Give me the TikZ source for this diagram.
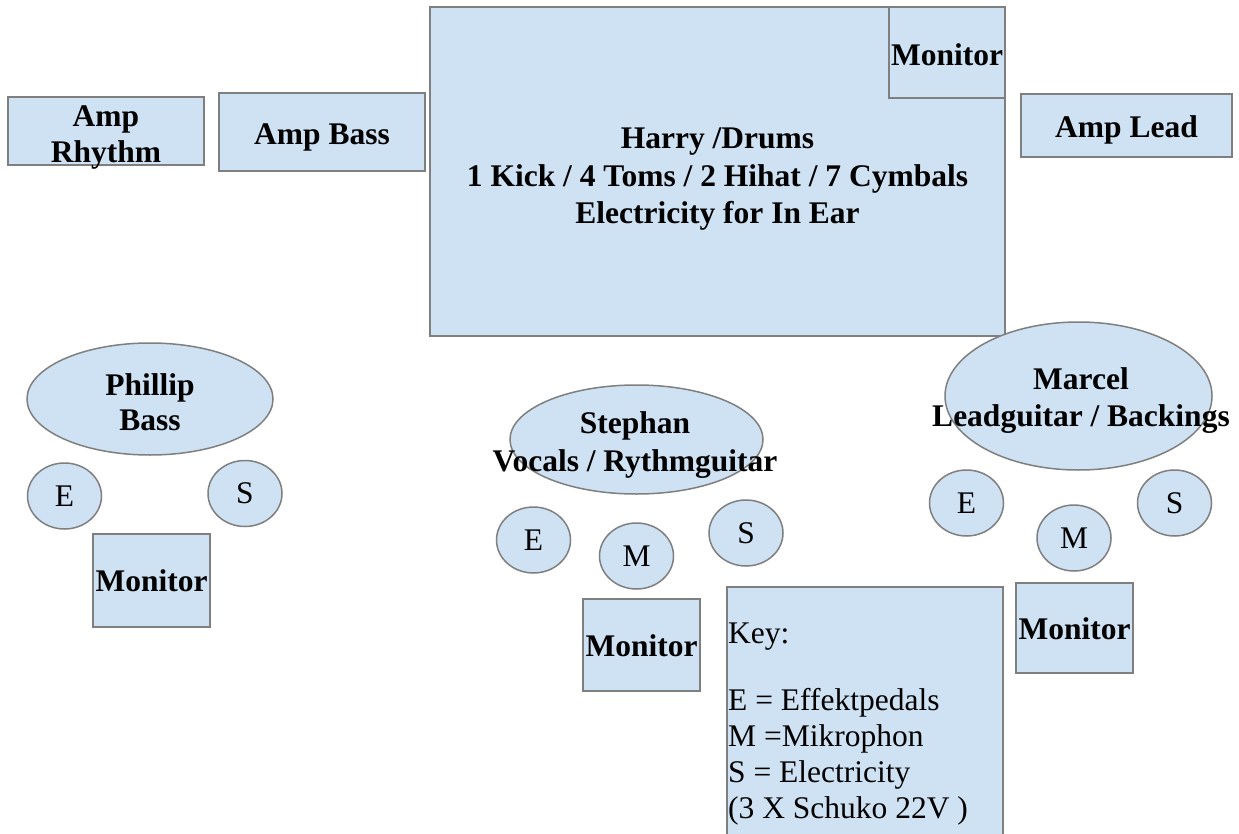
\documentclass[tikz,border=0pt]{standalone}
\usepackage{fontspec}
\setmainfont{Liberation Serif}
\usetikzlibrary{shapes.geometric}
\definecolor{fillc}{HTML}{CFE2F3}
\definecolor{linec}{HTML}{7F7F7F}
\begin{document}
\begin{tikzpicture}[x=1pt,y=-1pt,
  box/.style={draw=linec, fill=fillc, line width=1.5pt, inner sep=0pt, outer sep=0pt,
    font=\bfseries\fontsize{31.5}{37}\selectfont, align=center, text height=21pt, text depth=0pt},
  oval/.style={ellipse, draw=linec, fill=fillc, line width=1.5pt, inner sep=0pt, outer sep=0pt},
  dot/.style={oval, minimum width=74pt, minimum height=66pt, font=\fontsize{31.5}{36}\selectfont},
  lbl/.style={inner sep=0pt, anchor=base, font=\bfseries\fontsize{31.5}{37.5}\selectfont, align=center}]
\useasboundingbox (0,0) rectangle (1239,834);
\fill[white] (0,0) rectangle (1239,834);
% amps
\node[box, minimum width=196pt, minimum height=68pt] (amprhythm) at (106,131) {};
\node[lbl, font=\bfseries\fontsize{31.5}{35.5}\selectfont] (amprhythmtext) at (106,162.5) {Amp\\Rhythm};
\node[box, minimum width=206pt, minimum height=78pt, text height=26pt] (ampbass) at (322,132) {Amp Bass};
\node[box, minimum width=211pt, minimum height=63pt, text height=25pt] (amplead) at (1126.5,125.5) {Amp Lead};
% drums
\node[box, minimum width=575pt, minimum height=329pt] (drums) at (717.5,171.5) {};
\node[lbl] (drumstext) at (717.5,224) {Harry /Drums\\1 Kick / 4 Toms / 2 Hihat / 7 Cymbals\\Electricity for In Ear};
\node[box, minimum width=116pt, minimum height=91pt] (drummon) at (947,52.5) {};
\node[lbl] (drummontext) at (947,65.5) {Monitor};
% Phillip
\node[oval, minimum width=246pt, minimum height=112pt] (phillip) at (150,399) {};
\node[lbl, font=\bfseries\fontsize{31.5}{35}\selectfont] (philliptext) at (150,430.5) {Phillip\\Bass};
\node[dot] (pe) at (64.5,496) {E};
\node[dot] (ps) at (245,493.5) {S};
\node[box, minimum width=117pt, minimum height=93pt] (pmon) at (151.5,580.5) {Monitor};
% Stephan
\node[oval, minimum width=253pt, minimum height=109pt] (stephan) at (636.5,439.5) {};
\node[lbl] (stephantext) at (635,471) {Stephan\\Vocals / Rythmguitar};
\node[dot] (se) at (533.5,540) {E};
\node[dot] (sm) at (636.5,556) {M};
\node[dot] (ss) at (746,533) {S};
\node[box, minimum width=117pt, minimum height=92pt, text height=23pt] (smon) at (641.5,645) {Monitor};
% Marcel
\node[oval, minimum width=267pt, minimum height=148pt] (marcel) at (1078.5,396) {};
\node[lbl] (marceltext) at (1081,426.5) {Marcel\\Leadguitar / Backings};
\node[dot] (me) at (966.5,503) {E};
\node[dot] (mm) at (1074,538) {M};
\node[dot] (ms) at (1174.5,503) {S};
\node[box, minimum width=117pt, minimum height=90pt, text height=23pt] (mmon) at (1074.5,628) {Monitor};
% key
\node[box, minimum width=276pt, minimum height=256pt] (key) at (865,715) {};
\node[inner sep=0pt, anchor=base west, align=left, font=\fontsize{31.5}{36}\selectfont] (keytext) at (728,818.5)
  {Key:\\[31pt]E = Effektpedals\\M =Mikrophon\\S = Electricity\\(3 X Schuko 22V )};
\end{tikzpicture}
\end{document}
